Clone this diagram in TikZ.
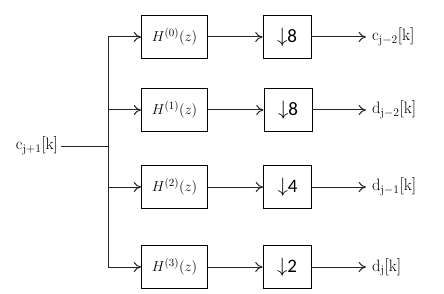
\documentclass[tikz,border=0pt]{standalone}
\usepackage{fontspec}
\usepackage{tikz}
\usetikzlibrary{positioning,arrows.meta,calc}
\newfontfamily\digitfont{Carlito}
\newcommand{\dn}[1]{{\fontsize{22}{24}\selectfont$\downarrow$}{\digitfont\fontsize{19}{22}\selectfont #1}}
\newcommand{\sig}[3]{$\mathrm{#1}_{\mathrm{#2}}[\mathrm{k}]$}
\tikzset{
  filt/.style={rectangle, draw, line width=0.9pt, minimum width=66pt,
               minimum height=43pt, inner sep=2pt, font=\fontsize{15.5}{17}\selectfont},
  decim/.style={rectangle, draw, line width=0.9pt, minimum width=48pt,
                minimum height=43pt, inner sep=0pt},
  sigtxt/.style={font=\fontsize{16.5}{18}\selectfont},
  sigout/.style={sigtxt, anchor=west, inner xsep=6pt},
  wire/.style={line width=1pt, draw=black!85},
  ar/.style={wire, -{To[length=2.6mm,width=3.6mm]}},
}
\begin{document}
\begin{tikzpicture}[x=1pt, y=-1pt]
  \useasboundingbox (0,0) rectangle (444,294);
  % input and branch point
  \node[sigtxt, inner sep=3pt] (in) at (37,146) {\sig{c}{j+1}{k}};
  \coordinate (split) at (108,146);
  \coordinate (br0) at (108,37);
  \coordinate (br1) at (108,110);
  \coordinate (br2) at (108,187);
  \coordinate (br3) at (108,267);
  % filters
  \node[filt] (h0) at (174.5,37) {$H^{(0)}(z)$};
  \node[filt] (h1) at (174.5,110) {$H^{(1)}(z)$};
  \node[filt] (h2) at (174.5,187) {$H^{(2)}(z)$};
  \node[filt] (h3) at (174.5,267) {$H^{(3)}(z)$};
  % downsamplers
  \node[decim] (d0) at (287,37) {\dn{8}};
  \node[decim] (d1) at (288,110) {\dn{8}};
  \node[decim] (d2) at (287.5,187) {\dn{4}};
  \node[decim] (d3) at (287,267) {\dn{2}};
  % outputs
  \node[sigout] (o0) at (366,37) {\sig{c}{j-2}{k}};
  \node[sigout] (o1) at (366,110) {\sig{d}{j-2}{k}};
  \node[sigout] (o2) at (366,187) {\sig{d}{j-1}{k}};
  \node[sigout] (o3) at (366,267) {\sig{d}{j}{k}};
  % wiring
  \draw[wire] (in.east) -- (split);
  \draw[wire] (br0) -- (br3);
  \draw[ar] (br0) -- (h0.west);
  \draw[ar] (br1) -- (h1.west);
  \draw[ar] (br2) -- (h2.west);
  \draw[ar] (br3) -- (h3.west);
  \draw[ar] (h0) -- (d0);
  \draw[ar] (h1) -- (d1);
  \draw[ar] (h2) -- (d2);
  \draw[ar] (h3) -- (d3);
  \draw[ar] (d0) -- (o0);
  \draw[ar] (d1) -- (o1);
  \draw[ar] (d2) -- (o2);
  \draw[ar] (d3) -- (o3);
\end{tikzpicture}
\end{document}
